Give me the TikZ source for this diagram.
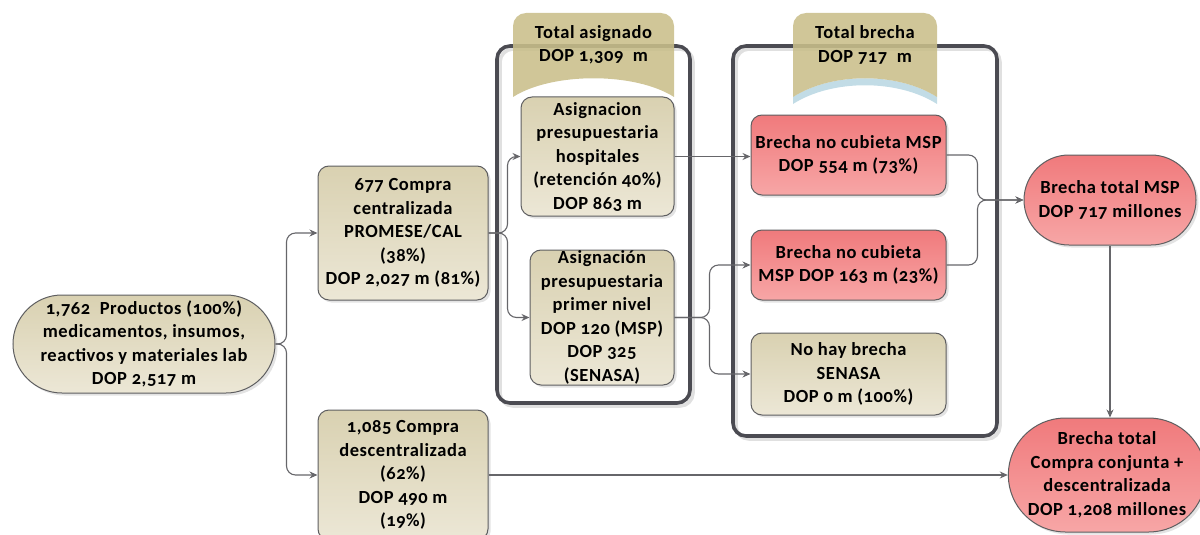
\documentclass[tikz,border=0pt]{standalone}
\usepackage{fontspec}
\setmainfont{Carlito}[Numbers=OldStyle, LetterSpace=3]
\usetikzlibrary{shadows,arrows.meta,shapes.misc}
\definecolor{beigeT}{HTML}{D9D1B1}
\definecolor{beigeB}{HTML}{ECE7D6}
\definecolor{redT}{HTML}{F07A7C}
\definecolor{redB}{HTML}{F7A6A6}
\definecolor{tanT}{HTML}{C9BE8A}
\definecolor{tanB}{HTML}{DED6B3}
\definecolor{bord}{HTML}{5E5E60}
\definecolor{framec}{HTML}{4B4B52}
\definecolor{connc}{HTML}{66666A}
\definecolor{bluesh}{HTML}{C2DCE6}
\tikzset{
  txt/.style={align=center, font=\bfseries\fontsize{18.5}{23.5}\selectfont, text=black, inner sep=0pt},
  boxbase/.style={txt, draw=bord, line width=1pt,
     drop shadow={opacity=0.22, shadow xshift=2.5pt, shadow yshift=-2.5pt}},
  beigebox/.style={boxbase, rounded corners=11pt, top color=beigeT, bottom color=beigeB},
  redbox/.style={boxbase, rounded corners=11pt, top color=redT, bottom color=redB},
  beigepill/.style={boxbase, rounded rectangle, top color=beigeT, bottom color=beigeB},
  redpill/.style={boxbase, rounded rectangle, top color=redT, bottom color=redB},
  framebox/.style={draw=framec, line width=3.6pt, rounded corners=13pt},
  frameshadow/.style={draw=black!12, line width=3.6pt, rounded corners=13pt},
  tabfill/.style={fill=tanT, fill opacity=0.88},
  conn/.style={draw=connc, line width=1.1pt, rounded corners=9pt, -{Stealth[length=8pt,width=7pt]}},
}
\begin{document}
\begin{tikzpicture}[x=1pt,y=1pt]
\useasboundingbox (0,0) rectangle (1200,-535);

% frames
\draw[frameshadow] (500,-49) rectangle (693,-406);
\draw[frameshadow] (736,-49) rectangle (1000,-439);
\draw[framebox] (497,-46) rectangle (690,-403);
\draw[framebox] (733,-46) rectangle (997,-436);

% tabs
\path[tabfill] (513,-97) -- (513,-26) arc[start angle=180,end angle=90,radius=13] -- (661,-13)
   arc[start angle=90,end angle=0,radius=13] -- (674,-97)
   .. controls (635,-72) and (552,-72) .. (513,-97) -- cycle;
\fill[bluesh] (793,-97) .. controls (832,-72) and (898,-72) .. (937,-97) -- (937,-104)
   .. controls (898,-79) and (832,-79) .. (793,-104) -- cycle;
\path[tabfill] (793,-97) -- (793,-26) arc[start angle=180,end angle=90,radius=13] -- (924,-13)
   arc[start angle=90,end angle=0,radius=13] -- (937,-97)
   .. controls (898,-72) and (832,-72) .. (793,-97) -- cycle;
\node[txt] (ta) at (593.5,-45) {Total asignado\\DOP 1,309\ \ m};
\node[txt] (tb) at (865,-45) {Total brecha\\DOP 717\ \ m};

% nodes
\node[beigepill, minimum width=262pt, minimum height=98pt] (n0) at (144,-344)
  {1,762\ \ Productos (100\%)\\medicamentos, insumos,\\reactivos y materiales lab\\DOP 2,517 m};
\node[beigebox, minimum width=170pt, minimum height=134pt] (c) at (403,-233)
  {677 Compra\\centralizada\\PROMESE/CAL\\(38\%)\\DOP 2,027 m (81\%)};
\node[beigebox, minimum width=170pt, minimum height=130pt] (d) at (403,-475)
  {1,085 Compra\\descentralizada\\(62\%)\\DOP 490 m\\(19\%)};
\node[beigebox, minimum width=153pt, minimum height=119pt] (h) at (597.5,-156.5)
  {Asignacion\\presupuestaria\\hospitales\\(retención 40\%)\\DOP 863 m};
\node[beigebox, minimum width=144pt, minimum height=135pt] (p) at (602,-317.5)
  {Asignación\\presupuestaria\\primer nivel\\DOP 120 (MSP)\\DOP 325\\(SENASA)};
\node[redbox, minimum width=195pt, minimum height=80pt] (b1) at (848.5,-155)
  {Brecha no cubieta MSP\\DOP 554 m (73\%)};
\node[redbox, minimum width=195pt, minimum height=70pt] (b2) at (848.5,-265)
  {Brecha no cubieta\\MSP DOP 163 m (23\%)};
\node[beigebox, minimum width=195pt, minimum height=82pt] (b3) at (848.5,-374)
  {No hay brecha\\SENASA\\DOP 0 m (100\%)};
\node[redpill, minimum width=172pt, minimum height=90pt] (m) at (1110,-200)
  {Brecha total MSP\\DOP 717 millones};
\node[redpill, minimum width=184pt, minimum height=114pt] (t) at (1107,-475)
  {Brecha total\\Compra conjunta +\\descentralizada\\DOP 1,208 millones};

% connectors
\draw[conn] (n0.east) -- ++(11,0) |- (c.west);
\draw[conn] (n0.east) -- ++(11,0) |- (d.west);
\draw[conn] (c.east) -- ++(19,0) |- (h.west);
\draw[conn] (c.east) -- ++(19,0) |- (p.west);
\draw[conn] (h.east) -- (h.east -| b1.west);
\draw[conn] (p.east) -- ++(35,0) |- (b2.west);
\draw[conn] (p.east) -- ++(35,0) |- (b3.west);
\draw[conn] (b1.east) -- ++(31,0) |- (m.west);
\draw[conn] (b2.east) -- ++(31,0) |- (m.west);
\draw[conn] (m.south) -- (m.south |- t.north);
\draw[conn] (d.east) -- (d.east -| t.west);
\end{tikzpicture}
\end{document}
